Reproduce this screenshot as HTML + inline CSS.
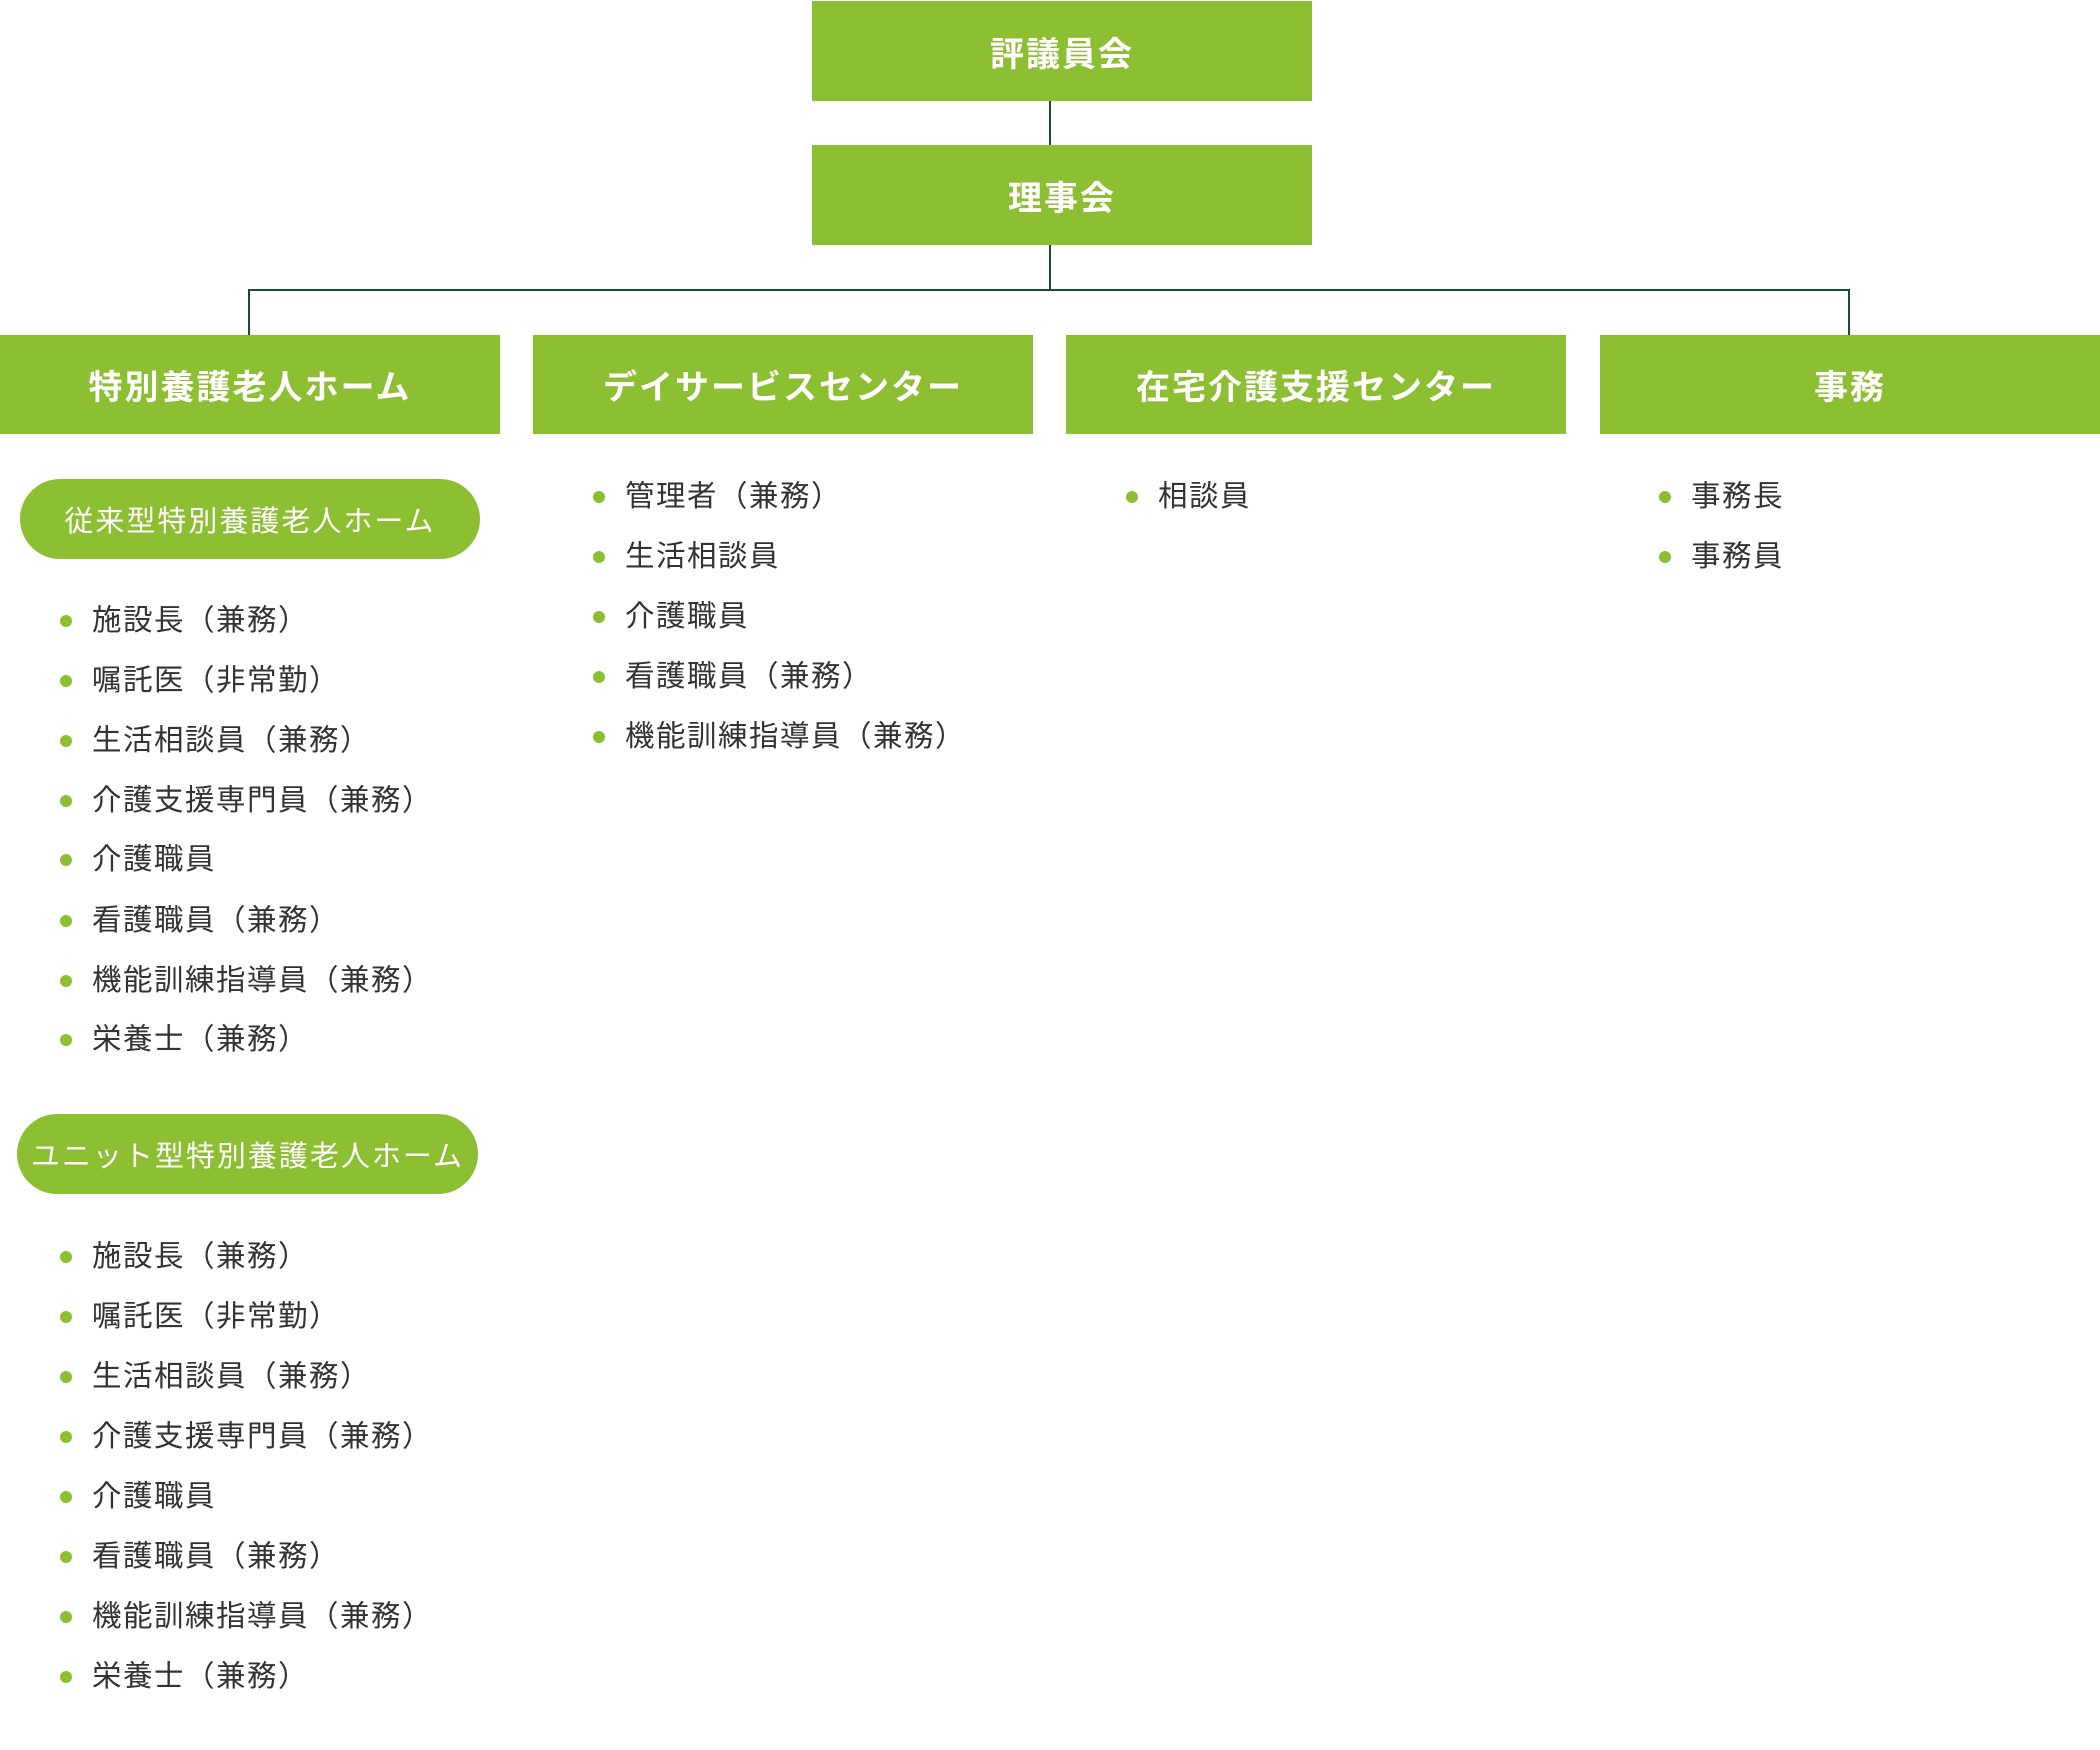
<!DOCTYPE html>
<html><head><meta charset="utf-8"><style>
body{margin:0;width:2100px;height:1750px;background:#fff;position:relative;font-family:"Liberation Sans","Noto Sans CJK JP",sans-serif;overflow:hidden}
.b{position:absolute;background:#8dbf32;color:#fff;font-weight:bold;font-size:34px;display:flex;align-items:center;justify-content:center;letter-spacing:2px}
.l{position:absolute;background:#1e4a35}
.p{position:absolute;background:#8dbf32;color:#fff;font-size:29px;border-radius:40px;display:flex;align-items:center;justify-content:center;letter-spacing:2px}
.i{position:absolute;font-size:29.5px;color:#333;line-height:40px;white-space:nowrap;letter-spacing:1.5px;margin-top:2px}
.i::before{content:"";position:absolute;left:-32px;top:14px;width:12px;height:12px;border-radius:50%;background:#8dbf32}
</style></head><body>
<div class="b" style="left:812px;top:1px;width:500px;height:100px">評議員会</div>
<div class="b" style="left:812px;top:145px;width:500px;height:100px">理事会</div>
<div class="l" style="left:1049px;top:101px;width:2px;height:44px"></div>
<div class="l" style="left:1049px;top:245px;width:2px;height:45px"></div>
<div class="l" style="left:248px;top:289px;width:1602px;height:2px"></div>
<div class="l" style="left:248px;top:289px;width:2px;height:46px"></div>
<div class="l" style="left:1848px;top:289px;width:2px;height:46px"></div>
<div class="b" style="left:0;top:335px;width:500px;height:99px">特別養護老人ホーム</div>
<div class="b" style="left:533px;top:335px;width:500px;height:99px">デイサービスセンター</div>
<div class="b" style="left:1066px;top:335px;width:500px;height:99px">在宅介護支援センター</div>
<div class="b" style="left:1600px;top:335px;width:500px;height:99px">事務</div>
<div class="p" style="left:20px;top:479px;width:460px;height:80px">従来型特別養護老人ホーム</div>
<div class="i" style="left:92px;top:599px">施設長（兼務）</div>
<div class="i" style="left:92px;top:659px">嘱託医（非常勤）</div>
<div class="i" style="left:92px;top:719px">生活相談員（兼務）</div>
<div class="i" style="left:92px;top:779px">介護支援専門員（兼務）</div>
<div class="i" style="left:92px;top:838px">介護職員</div>
<div class="i" style="left:92px;top:899px">看護職員（兼務）</div>
<div class="i" style="left:92px;top:959px">機能訓練指導員（兼務）</div>
<div class="i" style="left:92px;top:1018px">栄養士（兼務）</div>
<div class="p" style="left:17px;top:1114px;width:461px;height:80px">ユニット型特別養護老人ホーム</div>
<div class="i" style="left:92px;top:1235px">施設長（兼務）</div>
<div class="i" style="left:92px;top:1295px">嘱託医（非常勤）</div>
<div class="i" style="left:92px;top:1355px">生活相談員（兼務）</div>
<div class="i" style="left:92px;top:1415px">介護支援専門員（兼務）</div>
<div class="i" style="left:92px;top:1475px">介護職員</div>
<div class="i" style="left:92px;top:1535px">看護職員（兼務）</div>
<div class="i" style="left:92px;top:1595px">機能訓練指導員（兼務）</div>
<div class="i" style="left:92px;top:1655px">栄養士（兼務）</div>
<div class="i" style="left:625px;top:475px">管理者（兼務）</div>
<div class="i" style="left:625px;top:535px">生活相談員</div>
<div class="i" style="left:625px;top:595px">介護職員</div>
<div class="i" style="left:625px;top:655px">看護職員（兼務）</div>
<div class="i" style="left:625px;top:715px">機能訓練指導員（兼務）</div>
<div class="i" style="left:1158px;top:475px">相談員</div>
<div class="i" style="left:1691px;top:475px">事務長</div>
<div class="i" style="left:1691px;top:535px">事務員</div>
</body></html>
